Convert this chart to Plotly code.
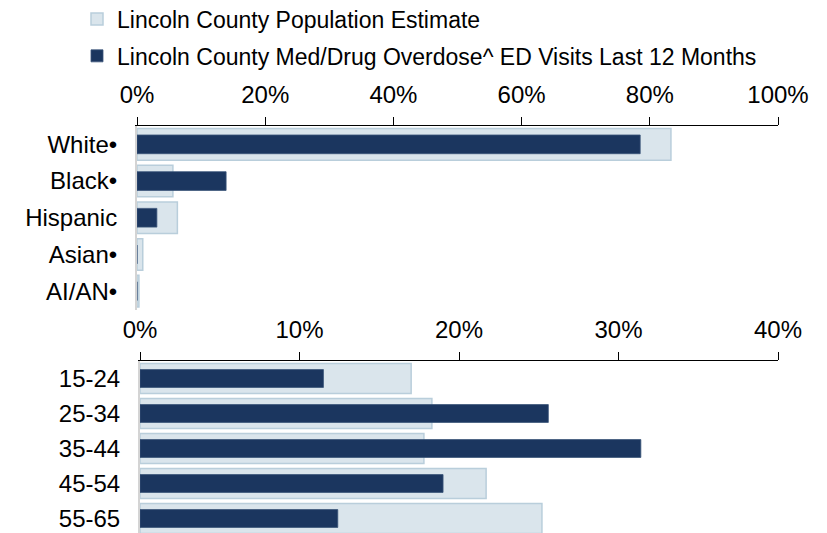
import plotly.graph_objects as go

race_cats = ["White•", "Black•", "Hispanic", "Asian•", "AI/AN•"]
race_pop = [83.3, 5.6, 6.3, 0.9, 0.3]
race_od = [78.5, 13.9, 3.1, 0.0, 0.0]

age_cats = ["15-24", "25-34", "35-44", "45-54", "55-65"]
age_pop = [17.0, 18.3, 17.8, 21.7, 25.2]
age_od = [11.5, 25.6, 31.4, 19.0, 12.4]

pop_name = "Lincoln County Population Estimate"
od_name = "Lincoln County Med/Drug Overdose^ ED Visits Last 12 Months"

POP_FILL = "#DAE5EC"
POP_LINE = "#B9CEDB"
OD_FILL = "#1B365F"
OD_LINE = "#3A5478"
FONT = "Liberation Sans, Arial, sans-serif"

# page has an 8px body margin; figure occupies the rest of the 827x533 window
W, H = 819, 525
OFF = 8

fig = go.Figure()
fig.add_trace(go.Bar(y=race_cats, x=race_pop, orientation="h", name=pop_name,
                     width=0.86, marker=dict(color=POP_FILL, line=dict(color=POP_LINE, width=1.5)),
                     xaxis="x", yaxis="y", legendgroup="pop"))
fig.add_trace(go.Bar(y=race_cats, x=race_od, orientation="h", name=od_name,
                     width=0.51, marker=dict(color=OD_FILL, line=dict(color=OD_LINE, width=0.8)),
                     xaxis="x", yaxis="y", legendgroup="od"))
fig.add_trace(go.Bar(y=age_cats, x=age_pop, orientation="h", name=pop_name, showlegend=False,
                     width=0.86, marker=dict(color=POP_FILL, line=dict(color=POP_LINE, width=1.5)),
                     xaxis="x2", yaxis="y2", legendgroup="pop"))
fig.add_trace(go.Bar(y=age_cats, x=age_od, orientation="h", name=od_name, showlegend=False,
                     width=0.51, marker=dict(color=OD_FILL, line=dict(color=OD_LINE, width=0.8)),
                     xaxis="x2", yaxis="y2", legendgroup="od"))

def fx(p):
    return (p - OFF) / W

def fy(p):
    return 1 - (p - OFF) / H

xcommon = dict(side="top", showgrid=False, zeroline=False, showline=True, linecolor="#000000",
               linewidth=1, ticks="outside", ticklen=8, tickcolor="#000000", tickwidth=1,
               ticksuffix="%", tickfont=dict(size=24, color="#000000", family=FONT),
               automargin=False, ticklabelstandoff=4, fixedrange=True)
ycommon = dict(type="category", showgrid=False, zeroline=False, showline=True, linecolor="#D4D4D4",
               linewidth=2, ticks="", tickfont=dict(size=24, color="#000000", family=FONT),
               automargin=False, ticklabelstandoff=13, fixedrange=True)

fig.update_layout(
    width=W, height=H,
    margin=dict(l=0, r=0, t=0, b=0, autoexpand=False),
    paper_bgcolor="white", plot_bgcolor="white",
    barmode="overlay",
    font=dict(family=FONT, size=22, color="#000000"),
    xaxis=dict(domain=[fx(137), fx(778)], range=[0, 100], dtick=20, anchor="y", **xcommon),
    yaxis=dict(domain=[fy(309.5), fy(126)], range=[4.5, -0.5], anchor="x", **ycommon),
    xaxis2=dict(domain=[fx(140), fx(778)], range=[0, 40], dtick=10, anchor="y2", **xcommon),
    yaxis2=dict(domain=[0, fy(361)], range=[4.414, -0.5], anchor="x2", **ycommon),
    legend=dict(x=(117 - OFF - 40) / W, xanchor="left", y=1.02, yanchor="top", orientation="v",
                font=dict(size=23, color="#000000", family=FONT), itemwidth=30,
                tracegroupgap=4, bgcolor="rgba(0,0,0,0)", traceorder="grouped"),
    showlegend=True,
)

fig.write_html("out.html")
